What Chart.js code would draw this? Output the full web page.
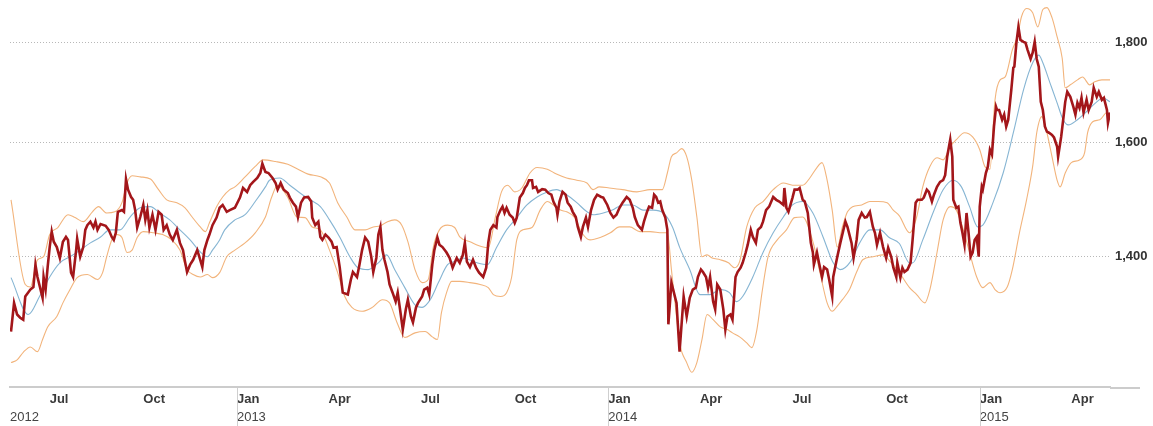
<!DOCTYPE html>
<html>
<head>
<meta charset="utf-8">
<script src="https://cdn.jsdelivr.net/npm/chart.js@4/dist/chart.umd.min.js"></script>
<style>
  html, body { margin: 0; padding: 0; background: #ffffff; }
  #wrap { width: 1153px; height: 426px; position: relative; }
</style>
</head>
<body>
<div id="wrap"><canvas id="c"></canvas></div>
<script>
// x values are days counted from 2012-01-01 (day 0)
const xMinDay = 143;
const xMaxDay = 1224;

const monthTickDays   = [182, 274, 366, 456, 547, 639, 731, 821, 912, 1004, 1096, 1186];
const monthTickLabels = ['Jul', 'Oct', 'Jan', 'Apr', 'Jul', 'Oct', 'Jan', 'Apr', 'Jul', 'Oct', 'Jan', 'Apr'];
const yearTickDays    = [143, 366, 731, 1096];
const yearTickLabels  = ['2012', '2013', '2014', '2015'];
const yearStartDays   = [366, 731, 1096];

const yTickValues = [1400, 1600, 1800];
const yMin = 1200;
const yMax = 1893;

// closing price [day, value]
const priceSeries = [
[144,1281],[147,1325],[150,1307],[153,1302],[156,1299],[158,1335],[163,1346],[166,1350],[168,1386],[170,1366],
[175,1333],[176,1366],[178,1346],[180,1382],[182,1415],[184,1441],[186,1424],[189,1415],[192,1397],[195,1424],
[198,1432],[200,1427],[203,1373],[205,1366],[208,1410],[209,1429],[212,1399],[215,1415],[217,1444],[219,1452],
[222,1458],[225,1448],[227,1458],[229,1444],[232,1454],[237,1451],[240,1444],[243,1432],[245,1427],[247,1439],
[249,1475],[253,1478],[255,1475],[257,1533],[259,1514],[262,1501],[264,1496],[266,1478],[268,1448],[271,1466],
[274,1487],[276,1461],[278,1478],[280,1448],[283,1470],[286,1444],[289,1475],[292,1470],[294,1444],[297,1452],
[300,1436],[303,1427],[307,1444],[310,1422],[313,1410],[315,1391],[317,1374],[320,1386],[323,1394],[327,1410],
[329,1399],[332,1382],[334,1410],[337,1427],[339,1436],[342,1452],[346,1465],[349,1482],[352,1487],[356,1475],
[359,1478],[364,1482],[369,1500],[372,1517],[376,1510],[379,1522],[382,1528],[386,1535],[389,1544],[391,1561],
[394,1546],[397,1544],[401,1535],[404,1526],[406,1514],[409,1526],[412,1514],[416,1508],[418,1500],[421,1491],
[424,1484],[426,1466],[429,1491],[432,1500],[436,1501],[439,1493],[440,1465],[443,1452],[446,1458],[448,1432],
[450,1427],[453,1436],[456,1431],[459,1424],[461,1414],[464,1415],[467,1382],[470,1341],[475,1338],[478,1362],
[480,1374],[484,1366],[486,1382],[489,1410],[492,1431],[495,1424],[498,1399],[500,1374],[503,1397],[505,1436],
[507,1449],[509,1410],[511,1394],[514,1374],[516,1354],[519,1341],[522,1327],[524,1341],[527,1307],[529,1284],
[532,1315],[534,1330],[537,1304],[539,1295],[542,1318],[544,1325],[548,1335],[550,1346],[553,1349],[555,1338],
[558,1386],[560,1410],[563,1431],[565,1419],[568,1415],[572,1406],[575,1397],[578,1381],[582,1397],[585,1389],
[588,1402],[590,1422],[592,1391],[595,1382],[598,1394],[601,1381],[604,1373],[608,1366],[611,1381],[613,1422],
[615,1444],[618,1452],[621,1448],[622,1466],[625,1478],[627,1484],[629,1473],[631,1482],[634,1470],[637,1465],
[639,1456],[641,1465],[644,1500],[647,1508],[649,1517],[651,1522],[653,1531],[656,1531],[657,1517],[660,1519],
[662,1510],[666,1515],[669,1514],[672,1508],[675,1505],[677,1493],[680,1482],[681,1470],[683,1493],[686,1510],
[689,1505],[691,1491],[694,1484],[696,1475],[699,1466],[701,1449],[704,1432],[706,1449],[709,1465],[711,1449],
[714,1478],[717,1496],[720,1505],[724,1501],[726,1500],[730,1487],[733,1473],[736,1465],[739,1470],[742,1482],
[745,1491],[749,1501],[752,1496],[755,1482],[757,1466],[760,1452],[764,1444],[766,1458],[769,1475],[771,1484],
[774,1482],[776,1505],[778,1501],[780,1491],[782,1493],[784,1478],[787,1465],[789,1444],[790,1292],[793,1357],
[798,1325],[801,1251],[805,1335],[808,1304],[811,1333],[814,1346],[817,1349],[819,1366],[822,1378],[824,1374],
[827,1366],[829,1349],[831,1366],[834,1327],[836,1315],[838,1354],[841,1346],[844,1315],[846,1284],[848,1304],
[851,1307],[853,1299],[856,1366],[858,1374],[861,1381],[863,1389],[866,1406],[868,1419],[871,1444],[873,1432],
[876,1422],[878,1444],[881,1449],[883,1458],[886,1478],[889,1484],[893,1501],[896,1496],[899,1493],[903,1487],
[904,1517],[906,1482],[908,1475],[912,1500],[914,1514],[917,1514],[919,1517],[922,1496],[924,1493],[927,1473],
[930,1422],[932,1406],[933,1386],[936,1406],[938,1389],[941,1366],[943,1382],[946,1378],[948,1362],[951,1335],
[952,1366],[956,1399],[959,1422],[962,1444],[964,1458],[966,1449],[970,1422],[972,1397],[975,1427],[977,1461],
[980,1473],[983,1465],[985,1466],[988,1475],[991,1449],[993,1439],[995,1419],[998,1439],[1001,1415],[1004,1397],
[1006,1414],[1009,1399],[1011,1382],[1014,1366],[1015,1389],[1018,1365],[1020,1381],[1022,1374],[1025,1378],[1028,1389],
[1030,1427],[1033,1491],[1035,1496],[1039,1496],[1041,1500],[1044,1514],[1046,1510],[1049,1493],[1051,1505],[1054,1519],
[1057,1528],[1060,1531],[1062,1540],[1064,1574],[1067,1606],[1069,1574],[1070,1496],[1073,1482],[1075,1484],[1077,1456],
[1079,1439],[1081,1419],[1083,1473],[1085,1439],[1087,1399],[1089,1406],[1091,1427],[1093,1432],[1095,1399],[1096,1484],
[1098,1519],[1099,1514],[1102,1544],[1104,1556],[1106,1587],[1108,1578],[1110,1631],[1112,1669],[1113,1663],[1115,1663],
[1118,1644],[1120,1654],[1122,1631],[1124,1644],[1127,1703],[1129,1748],[1130,1750],[1132,1800],[1134,1834],[1136,1806],
[1139,1802],[1141,1800],[1143,1785],[1146,1766],[1148,1779],[1150,1802],[1152,1766],[1154,1750],[1156,1679],[1158,1663],
[1160,1631],[1162,1621],[1164,1619],[1167,1615],[1169,1610],[1172,1593],[1173,1574],[1176,1611],[1178,1644],[1180,1679],
[1182,1699],[1185,1689],[1188,1669],[1190,1654],[1192,1677],[1194,1667],[1196,1687],[1198,1658],[1201,1683],[1203,1663],
[1206,1679],[1208,1707],[1211,1689],[1213,1699],[1216,1683],[1218,1687],[1221,1663],[1222,1638],[1224,1658]
];

// moving average [day, value]
const maSeries = [
[144,1365],[161,1307],[172,1335],[182,1366],[192,1389],[202,1399],[212,1410],[222,1422],[232,1432],[241,1444],
[251,1444],[261,1466],[271,1482],[281,1484],[290,1473],[300,1461],[310,1444],[320,1427],[330,1407],[337,1399],
[342,1410],[349,1427],[354,1444],[364,1461],[374,1470],[384,1493],[394,1519],[398,1531],[408,1535],[418,1522],
[428,1508],[438,1496],[448,1484],[457,1461],[467,1432],[477,1399],[485,1381],[495,1378],[505,1389],[513,1402],
[521,1378],[531,1349],[541,1322],[548,1318],[556,1330],[564,1357],[573,1386],[580,1391],[588,1397],[602,1389],
[612,1386],[621,1414],[631,1444],[641,1465],[651,1487],[661,1501],[671,1510],[680,1514],[690,1505],[700,1491],
[710,1475],[716,1470],[726,1473],[735,1478],[745,1487],[755,1487],[765,1478],[775,1478],[785,1473],[794,1449],
[801,1415],[811,1378],[821,1338],[831,1338],[841,1346],[850,1341],[857,1327],[863,1335],[873,1366],[883,1406],
[893,1439],[903,1466],[912,1487],[922,1493],[932,1473],[942,1432],[952,1389],[959,1378],[969,1391],[978,1422],
[988,1444],[998,1444],[1007,1431],[1017,1421],[1027,1389],[1030,1389],[1040,1427],[1050,1473],[1060,1514],[1070,1531],
[1078,1519],[1086,1484],[1094,1449],[1099,1452],[1109,1491],[1119,1544],[1129,1619],[1139,1703],[1148,1758],[1154,1774],
[1158,1758],[1165,1717],[1172,1677],[1178,1644],[1183,1634],[1192,1644],[1201,1660],[1211,1679],[1217,1687],[1224,1679]
];

// upper band [day, value]
const upperSeries = [
[144,1496],[158,1354],[163,1350],[170,1394],[176,1399],[182,1436],[190,1448],[200,1470],[207,1465],[215,1458],
[224,1475],[230,1484],[238,1473],[246,1475],[253,1491],[258,1526],[263,1539],[271,1537],[281,1533],[289,1514],
[297,1496],[307,1491],[315,1482],[322,1466],[330,1449],[335,1441],[339,1456],[346,1484],[352,1501],[359,1514],
[364,1519],[374,1537],[384,1556],[392,1568],[404,1565],[416,1560],[426,1551],[436,1542],[448,1537],[457,1526],
[465,1491],[474,1466],[482,1444],[492,1444],[500,1449],[507,1451],[514,1458],[521,1461],[528,1452],[534,1424],
[541,1378],[548,1357],[554,1362],[559,1415],[565,1444],[573,1452],[580,1448],[585,1432],[595,1424],[608,1415],
[613,1414],[620,1466],[626,1510],[632,1522],[639,1510],[646,1517],[654,1544],[661,1554],[671,1551],[680,1542],
[690,1535],[700,1531],[710,1526],[716,1514],[722,1519],[732,1517],[745,1514],[759,1510],[772,1514],[784,1514],
[789,1544],[793,1574],[798,1581],[803,1589],[808,1574],[813,1531],[818,1466],[823,1399],[828,1402],[833,1397],
[841,1394],[849,1389],[855,1381],[860,1391],[867,1449],[875,1482],[883,1493],[893,1514],[903,1526],[912,1522],
[922,1522],[929,1535],[936,1554],[941,1563],[946,1531],[951,1478],[956,1415],[961,1449],[966,1475],[971,1484],
[980,1487],[988,1493],[996,1493],[1005,1491],[1011,1478],[1017,1468],[1027,1439],[1034,1466],[1040,1519],[1047,1556],
[1054,1572],[1060,1568],[1067,1593],[1073,1606],[1081,1619],[1089,1611],[1096,1587],[1101,1556],[1106,1551],[1111,1683],
[1116,1723],[1121,1729],[1128,1785],[1133,1813],[1137,1856],[1142,1874],[1148,1865],[1153,1834],[1158,1872],[1162,1876],
[1167,1854],[1172,1813],[1177,1768],[1180,1707],[1185,1713],[1192,1723],[1197,1729],[1204,1713],[1209,1719],[1216,1723],
[1224,1723]
];

// lower band [day, value]
const lowerSeries = [
[144,1235],[150,1239],[156,1250],[163,1258],[170,1251],[175,1269],[180,1288],[189,1304],[195,1325],[202,1346],
[209,1365],[219,1370],[229,1362],[234,1373],[238,1399],[243,1427],[248,1436],[253,1431],[258,1406],[263,1410],
[268,1431],[274,1441],[284,1439],[293,1436],[302,1427],[310,1410],[317,1378],[323,1370],[330,1366],[337,1370],
[342,1365],[349,1373],[356,1399],[364,1410],[374,1422],[384,1439],[394,1466],[400,1500],[406,1522],[416,1500],
[425,1466],[433,1465],[440,1449],[448,1444],[457,1410],[465,1373],[472,1335],[479,1318],[489,1312],[499,1318],
[509,1330],[516,1325],[523,1296],[531,1272],[541,1279],[551,1281],[558,1273],[563,1269],[567,1310],[572,1341],
[577,1359],[585,1359],[595,1357],[605,1354],[613,1349],[618,1338],[625,1335],[631,1341],[636,1366],[641,1427],
[647,1444],[656,1448],[664,1478],[671,1493],[677,1487],[684,1478],[690,1475],[698,1465],[705,1439],[713,1427],
[723,1431],[733,1439],[742,1449],[752,1449],[762,1441],[772,1441],[784,1439],[789,1439],[793,1378],[798,1304],
[801,1264],[808,1235],[813,1221],[818,1235],[823,1269],[828,1307],[834,1299],[841,1288],[848,1284],[853,1279],
[860,1273],[867,1264],[872,1257],[877,1284],[882,1341],[888,1399],[897,1427],[906,1444],[914,1465],[922,1466],
[932,1424],[939,1373],[946,1325],[951,1312],[956,1320],[961,1330],[968,1346],[975,1374],[981,1394],[991,1399],
[1001,1402],[1008,1391],[1017,1373],[1027,1349],[1034,1338],[1042,1325],[1047,1346],[1054,1406],[1060,1461],[1067,1484],
[1073,1478],[1079,1449],[1086,1406],[1093,1366],[1099,1349],[1106,1357],[1111,1346],[1116,1341],[1123,1350],[1128,1378],
[1135,1439],[1142,1496],[1148,1556],[1152,1619],[1157,1650],[1162,1619],[1167,1574],[1172,1531],[1175,1519],[1180,1544],
[1186,1563],[1194,1568],[1199,1581],[1202,1619],[1207,1640],[1214,1644],[1221,1658],[1224,1644]
];

const toPoints = s => s.map(p => ({ x: p[0], y: p[1] }));
const FONT = "'Liberation Sans', Arial, Helvetica, sans-serif";

const separatorPlugin = {
  id: 'yearSeparators',
  afterDraw(chart) {
    const ctx = chart.ctx;
    const xs = chart.scales.x;
    const area = chart.chartArea;
    ctx.save();
    // axis line continues under the right-hand labels
    ctx.strokeStyle = '#cccccc';
    ctx.lineWidth = 2;
    ctx.beginPath();
    ctx.moveTo(area.right, area.bottom + 1);
    ctx.lineTo(1140, area.bottom + 1);
    ctx.stroke();
    ctx.lineWidth = 1;
    ctx.strokeStyle = '#cfcfcf';
    yearStartDays.forEach(d => {
      const px = Math.round(xs.getPixelForValue(d)) + 0.5;
      ctx.beginPath();
      ctx.moveTo(px, area.bottom + 1);
      ctx.lineTo(px, chart.height);
      ctx.stroke();
    });
    ctx.restore();
  }
};

new Chart(document.getElementById('c'), {
  type: 'line',
  data: {
    datasets: [
      {
        label: 'Price', data: toPoints(priceSeries), borderColor: '#a3161a',
        borderWidth: 2.6, pointRadius: 0, tension: 0, order: 0
      },
      {
        label: 'Moving average', data: toPoints(maSeries), borderColor: '#86b5d3',
        borderWidth: 1.1, pointRadius: 0, cubicInterpolationMode: 'monotone', order: 1
      },
      {
        label: 'Upper band', data: toPoints(upperSeries), borderColor: '#f2b47c',
        borderWidth: 1.1, pointRadius: 0, cubicInterpolationMode: 'monotone', order: 2
      },
      {
        label: 'Lower band', data: toPoints(lowerSeries), borderColor: '#f2b47c',
        borderWidth: 1.1, pointRadius: 0, cubicInterpolationMode: 'monotone', order: 2
      }
    ]
  },
  options: {
    responsive: true,
    maintainAspectRatio: false,
    animation: false,
    events: [],
    layout: { padding: { left: 10, right: 0, top: 0, bottom: 0 } },
    plugins: { legend: { display: false }, tooltip: { enabled: false } },
    scales: {
      x: {
        type: 'linear', position: 'bottom', min: xMinDay, max: xMaxDay,
        afterBuildTicks: s => { s.ticks = monthTickDays.map(v => ({ value: v })); },
        afterFit: s => { s.height = 21; s.paddingLeft = 0; s.paddingRight = 0; },
        ticks: {
          autoSkip: false, maxRotation: 0, align: 'start', padding: 5,
          color: '#3a3a3a', font: { family: FONT, size: 13, weight: 'bold' },
          callback: v => { const i = monthTickDays.indexOf(v); return i >= 0 ? monthTickLabels[i] : ''; }
        },
        grid: { display: false, drawTicks: false },
        border: { display: true, color: '#cccccc', width: 2 }
      },
      x2: {
        type: 'linear', position: 'bottom', min: xMinDay, max: xMaxDay,
        afterBuildTicks: s => { s.ticks = yearTickDays.map(v => ({ value: v })); },
        afterFit: s => { s.height = 18; s.paddingLeft = 0; s.paddingRight = 0; },
        ticks: {
          autoSkip: false, maxRotation: 0, align: 'start', padding: 2,
          color: '#444444', font: { family: FONT, size: 13 },
          callback: v => { const i = yearTickDays.indexOf(v); return i >= 0 ? yearTickLabels[i] : ''; }
        },
        grid: { display: false, drawTicks: false },
        border: { display: false }
      },
      y: {
        type: 'logarithmic', position: 'right', min: yMin, max: yMax,
        afterBuildTicks: s => { s.ticks = yTickValues.map(v => ({ value: v })); },
        afterFit: s => { s.width = 43; s.paddingTop = 0; s.paddingBottom = 0; },
        ticks: {
          padding: 5, color: '#333333', font: { family: FONT, size: 13, weight: 'bold' },
          callback: v => v.toLocaleString('en-US')
        },
        grid: { color: '#b8b8b8', lineWidth: 1, drawTicks: false },
        border: { display: false, dash: [1, 2] }
      }
    }
  },
  plugins: [separatorPlugin]
});
</script>
</body>
</html>
